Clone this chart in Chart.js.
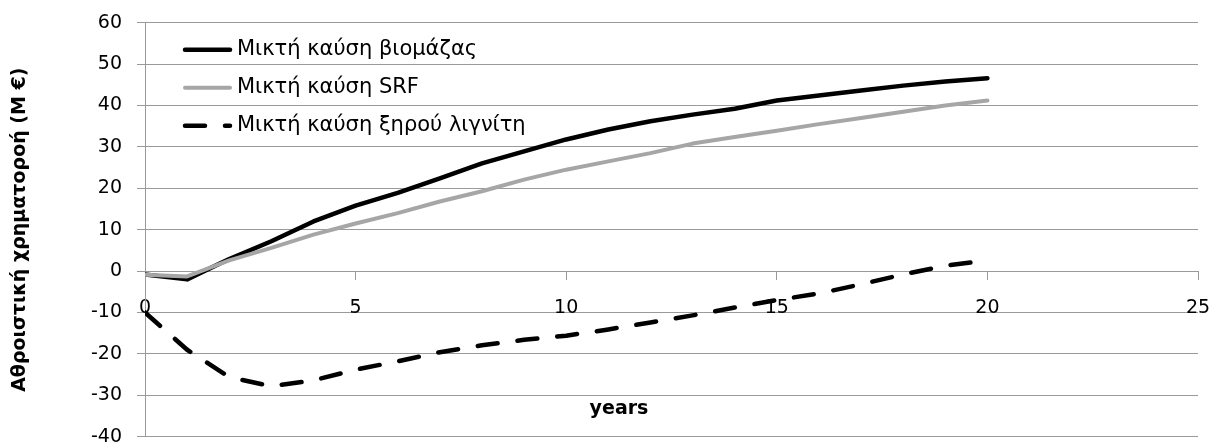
<!DOCTYPE html>
<html>
<head>
<meta charset="utf-8">
<script src="https://cdn.jsdelivr.net/npm/chart.js@4.4.1/dist/chart.umd.min.js"></script>
<style>
  html, body { margin: 0; padding: 0; background: #ffffff; }
  #wrap { position: relative; width: 1215px; height: 446px; }
</style>
</head>
<body>
<div id="wrap"><canvas id="chartFluxo"></canvas></div>
<script>
// dados (valores acumulados em M€)
const anos = [0, 1, 2, 3, 4, 5, 6, 7, 8, 9, 10, 11, 12, 13, 14, 15, 16, 17, 18, 19, 20];
const biomassa = [-0.8, -2.0, 2.9, 7.2, 12.0, 15.8, 18.9, 22.4, 26.0, 28.9, 31.8, 34.2, 36.2, 37.8, 39.2, 41.2, 42.4, 43.6, 44.8, 45.8, 46.6];
const srf = [-0.9, -1.3, 2.6, 5.6, 8.8, 11.5, 14.0, 16.8, 19.3, 22.1, 24.5, 26.5, 28.5, 30.8, 32.4, 33.9, 35.5, 37.0, 38.5, 40.0, 41.2];
const lignito = [-10.0, -19.0, -25.6, -27.8, -26.4, -23.8, -21.8, -19.6, -17.9, -16.6, -15.6, -14.1, -12.4, -10.7, -8.8, -7.0, -5.4, -3.2, -0.8, 1.3, 2.6];
const nomesSeries = ['Μικτή καύση βιομάζας', 'Μικτή καύση SRF', 'Μικτή καύση ξηρού λιγνίτη'];
const tituloY = 'Αθροιστική χρηματοροή (Μ €)';
const tituloX = 'years';

const pares = (ys) => anos.map((a, i) => ({ x: a, y: ys[i] }));
const FONTE = '"DejaVu Sans", "Liberation Sans", sans-serif';
const CINZA_GRADE = '#9a9a9a';

// legenda dentro da área do gráfico + título do eixo x deslocado
const legendaInterna = {
  id: 'legendaInterna',
  afterDatasetsDraw(chart) {
    const { ctx, chartArea } = chart;
    const x0 = chartArea.left + 40;
    ctx.save();
    chart.data.datasets.forEach((ds, i) => {
      const y = chartArea.top + 27 + i * 38;
      ctx.beginPath();
      ctx.strokeStyle = ds.borderColor;
      ctx.lineWidth = ds.borderWidth;
      ctx.lineCap = 'round';
      ctx.setLineDash(ds.borderDash || []);
      ctx.moveTo(x0, y);
      ctx.lineTo(x0 + 45, y);
      ctx.stroke();
      ctx.setLineDash([]);
      ctx.fillStyle = '#000000';
      ctx.font = '21px ' + FONTE;
      ctx.textAlign = 'left';
      ctx.textBaseline = 'middle';
      ctx.fillText(ds.label, x0 + 52, y);
    });
    ctx.font = 'bold 19px ' + FONTE;
    ctx.textAlign = 'center';
    ctx.textBaseline = 'middle';
    ctx.fillText(tituloX, chartArea.left + 474, chart.scales.y.getPixelForValue(-33.3));
    ctx.restore();
  }
};

new Chart(document.getElementById('chartFluxo'), {
  type: 'line',
  data: {
    datasets: [{
      label: nomesSeries[0],
      data: pares(biomassa),
      borderColor: '#000000',
      borderWidth: 4.5,
      order: 2,
    }, {
      label: nomesSeries[1],
      data: pares(srf),
      borderColor: '#a6a6a6',
      borderWidth: 4,
      order: 1,
    }, {
      label: nomesSeries[2],
      data: pares(lignito),
      borderColor: '#000000',
      borderWidth: 4.5,
      borderDash: [20, 20],
      order: 0,
    }]
  },
  options: {
    responsive: true,
    maintainAspectRatio: false,
    animation: false,
    layout: { padding: { left: 0, top: 22.7, right: 17, bottom: 9.3 } },
    elements: {
      line: { tension: 0, fill: false, borderCapStyle: 'round', borderJoinStyle: 'round' },
      point: { radius: 0, hoverRadius: 0 }
    },
    plugins: {
      legend: { display: false },
      tooltip: { enabled: false }
    },
    scales: {
      x: {
        type: 'linear',
        position: { y: 0 },
        min: 0,
        max: 25,
        ticks: { stepSize: 5, color: '#000000', padding: 18, font: { family: FONTE, size: 19 } },
        grid: { drawOnChartArea: false, drawTicks: true, tickLength: 8, color: CINZA_GRADE },
        border: { display: true, color: CINZA_GRADE },
        afterFit(scale) { scale.paddingLeft = 0; scale.paddingRight = 0; }
      },
      y: {
        min: -40,
        max: 60,
        ticks: { stepSize: 10, color: '#000000', padding: 15, font: { family: FONTE, size: 19, lineHeight: 1 } },
        grid: { color: CINZA_GRADE, tickLength: 8 },
        border: { display: true, color: CINZA_GRADE },
        title: {
          display: true,
          text: tituloY,
          color: '#000000',
          padding: { top: 9, bottom: 0 },
          font: { family: FONTE, size: 19, weight: 'bold' }
        },
        afterFit(scale) { scale.width = 145; scale.paddingTop = 0; scale.paddingBottom = 0; }
      }
    }
  },
  plugins: [legendaInterna]
});
</script>
</body>
</html>
